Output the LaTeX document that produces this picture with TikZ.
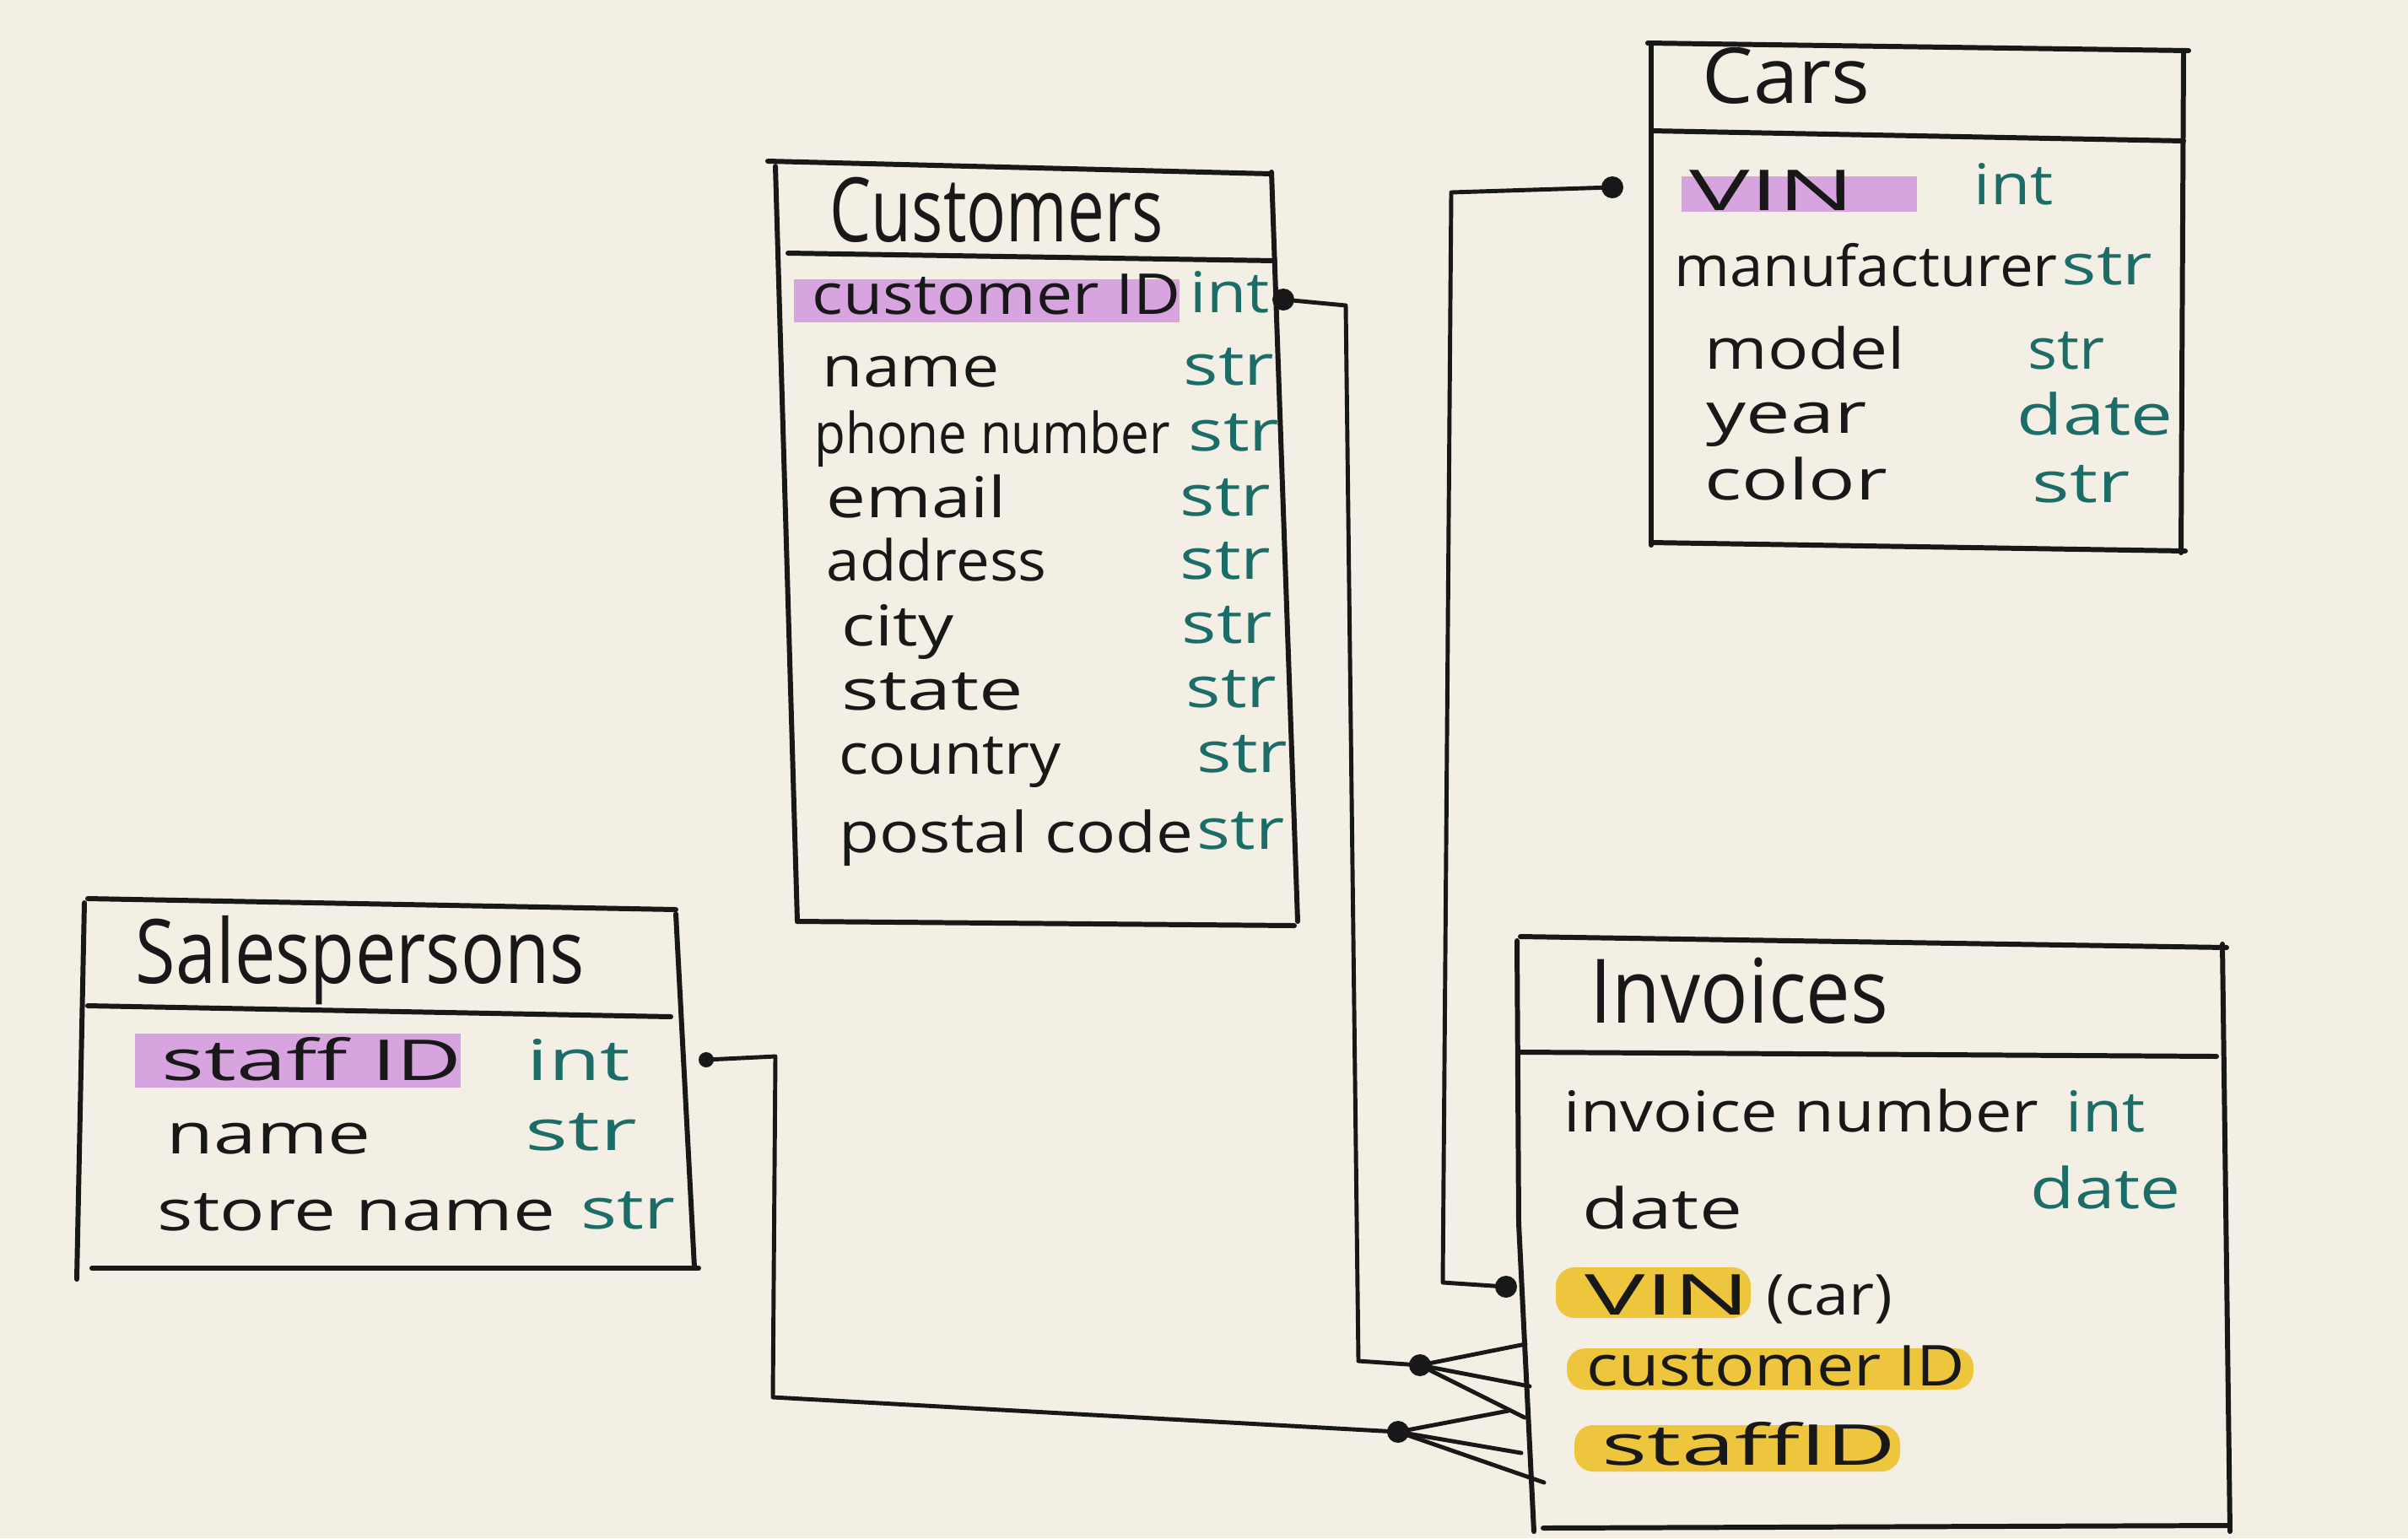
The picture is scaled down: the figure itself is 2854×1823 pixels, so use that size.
\documentclass[tikz,border=0pt]{standalone}
\usepackage{graphicx}
\usepackage{fontspec}
\setmainfont{Open Sans}
\definecolor{paperc}{RGB}{243,239,229}
\definecolor{inkc}{RGB}{24,24,24}
\definecolor{tealc}{RGB}{28,108,104}
\definecolor{pinkc}{RGB}{216,164,224}
\definecolor{yelc}{RGB}{238,198,62}
\newcommand{\hwtxt}[2]{\scalebox{#1}[1]{#2}}
\begin{document}
\begin{tikzpicture}[x=0.01cm,y=-0.01cm,
  edge/.style={draw=inkc, line width=1.7pt, line cap=round, line join=round},
  ttl/.style={anchor=base west, font=\fontsize{30}{34}\selectfont, text=inkc, inner sep=0pt},
  fld/.style={anchor=base west, font=\fontsize{19}{22}\selectfont, text=inkc, inner sep=0pt},
  typ/.style={anchor=base west, font=\fontsize{19}{22}\selectfont, text=tealc, inner sep=0pt},
  dotn/.style={circle, fill=inkc, inner sep=0pt, minimum size=0.26cm},
  smalldot/.style={circle, fill=inkc, inner sep=0pt, minimum size=0.18cm},
  conn/.style={draw=inkc, line width=1.4pt, line join=round, line cap=round},
  pinkhl/.style={fill=pinkc},
  yelhl/.style={fill=yelc, rounded corners=0.22cm}]
\useasboundingbox (0,0) rectangle (2854,1823);
\fill[paperc] (0,0) rectangle (2854,1823);

% ---------- highlights ----------
\fill[pinkhl] (941,331) rectangle (1398,382);
\fill[pinkhl] (1993,209) rectangle (2272,251);
\fill[pinkhl] (160,1225) rectangle (546,1289);
\fill[yelhl] (1844,1502) rectangle (2075,1562);
\fill[yelhl] (1857,1598) rectangle (2339,1647);
\fill[yelhl] (1866,1689) rectangle (2252,1744);

% ---------- Customers box ----------
\draw[edge] (910,191) -- (1507,206);
\draw[edge] (919,197) -- (945,1092);
\draw[edge] (1507,204) -- (1538,1092);
\draw[edge] (945,1092) -- (1534,1097);
\draw[edge] (934,300) -- (1511,309);
\node[ttl] (custT) at (983,286) {\hwtxt{0.74}{Customers}};
\node[fld] (c1) at (962,372) {\hwtxt{1.15}{customer ID}};
\node[fld] (c2) at (974,458) {\hwtxt{1.18}{name}};
\node[fld] (c3) at (965,537) {\hwtxt{0.90}{phone number}};
\node[fld] (c4) at (979,613) {\hwtxt{1.25}{email}};
\node[fld] (c5) at (979,688) {\hwtxt{1.06}{address}};
\node[fld] (c6) at (997,765) {\hwtxt{1.25}{city}};
\node[fld] (c7) at (997,841) {\hwtxt{1.40}{state}};
\node[fld] (c8) at (994,917) {\hwtxt{1.10}{country}};
\node[fld] (c9) at (994,1010) {\hwtxt{1.17}{postal code}};
\node[typ] (ct1) at (1410,370) {\hwtxt{1.15}{int}};
\node[typ] (ct2) at (1402,456) {\hwtxt{1.3}{str}};
\node[typ] (ct3) at (1408,534) {\hwtxt{1.3}{str}};
\node[typ] (ct4) at (1398,611) {\hwtxt{1.3}{str}};
\node[typ] (ct5) at (1398,686) {\hwtxt{1.3}{str}};
\node[typ] (ct6) at (1400,762) {\hwtxt{1.3}{str}};
\node[typ] (ct7) at (1405,838) {\hwtxt{1.3}{str}};
\node[typ] (ct8) at (1418,915) {\hwtxt{1.3}{str}};
\node[typ] (ct9) at (1418,1006) {\hwtxt{1.25}{str}};

% ---------- Cars box ----------
\draw[edge] (1953,51) -- (2594,60);
\draw[edge] (1957,51) -- (1957,646);
\draw[edge] (2588,60) -- (2585,655);
\draw[edge] (1957,643) -- (2590,653);
\draw[edge] (1957,155) -- (2588,167);
\node[ttl, font=\fontsize{26}{30}\selectfont] (carsT) at (2017,122) {\hwtxt{1.05}{Cars}};
\node[fld] (r1) at (2002,249) {\hwtxt{1.8}{VIN}};
\node[fld] (r2) at (1984,339) {\hwtxt{1.06}{manufacturer}};
\node[fld] (r3) at (2020,437) {\hwtxt{1.2}{model}};
\node[fld] (r4) at (2022,513) {\hwtxt{1.4}{year}};
\node[fld] (r5) at (2020,592) {\hwtxt{1.38}{color}};
\node[typ] (rt1) at (2339,242) {\hwtxt{1.15}{int}};
\node[typ] (rt2) at (2443,337) {\hwtxt{1.3}{str}};
\node[typ] (rt3) at (2403,437) {\hwtxt{1.1}{str}};
\node[typ] (rt4) at (2390,515) {\hwtxt{1.33}{date}};
\node[typ] (rt5) at (2408,595) {\hwtxt{1.4}{str}};

% ---------- Salespersons box ----------
\draw[edge] (104,1065) -- (801,1078);
\draw[edge] (100,1070) -- (91,1516);
\draw[edge] (801,1083) -- (823,1502);
\draw[edge] (109,1503) -- (828,1503);
\draw[edge] (104,1192) -- (795,1205);
\node[ttl] (salesT) at (160,1165) {\hwtxt{0.82}{Salespersons}};
\node[fld] (s1) at (191,1280) {\hwtxt{1.6}{staff ID}};
\node[fld] (s2) at (197,1367) {\hwtxt{1.36}{name}};
\node[fld] (s3) at (186,1458) {\hwtxt{1.33}{store name}};
\node[typ] (st1) at (624,1280) {\hwtxt{1.5}{int}};
\node[typ] (st2) at (622,1363) {\hwtxt{1.6}{str}};
\node[typ] (st3) at (688,1456) {\hwtxt{1.35}{str}};

% ---------- Invoices box ----------
\draw[edge] (1802,1110) -- (2639,1123);
\draw[edge] (1798,1115) -- (1800,1450) -- (1818,1815);
\draw[edge] (2634,1119) -- (2643,1815);
\draw[edge] (1829,1811) -- (2639,1808);
\draw[edge] (1802,1247) -- (2627,1252);
\node[ttl] (invT) at (1884,1212) {\hwtxt{0.89}{Invoices}};
\node[fld] (i1) at (1853,1341) {\hwtxt{1.16}{invoice number}};
\node[fld] (i2) at (1875,1456) {\hwtxt{1.36}{date}};
\node[fld] (i3) at (1878,1558) {\hwtxt{1.8}{VIN}\hwtxt{1.1}{ (car)}};
\node[fld] (i4) at (1880,1642) {\hwtxt{1.18}{customer ID}};
\node[fld] (i5) at (1898,1736) {\hwtxt{1.7}{staffID}};
\node[typ] (it1) at (2448,1341) {\hwtxt{1.15}{int}};
\node[typ] (it2) at (2406,1432) {\hwtxt{1.28}{date}};

% ---------- connector dots ----------
\node[dotn] (dcust) at (1521,355) {};
\node[dotn] (dcars) at (1911,222) {};
\node[smalldot] (dsales) at (837,1256) {};
\node[dotn] (dinvvin) at (1785,1525) {};
\node[dotn] (fcust) at (1683,1618) {};
\node[dotn] (fsales) at (1657,1697) {};

% ---------- bends and crow's-foot ends ----------
\coordinate (b1a) at (1595,362);
\coordinate (b1b) at (1610,1613);
\coordinate (b2a) at (1720,228);
\coordinate (b2b) at (1710,1520);
\coordinate (b3a) at (919,1252);
\coordinate (b3b) at (916,1656);
\coordinate (cf1) at (1808,1593);
\coordinate (cf2) at (1813,1643);
\coordinate (cf3) at (1807,1680);
\coordinate (sf1) at (1788,1672);
\coordinate (sf2) at (1803,1722);
\coordinate (sf3) at (1830,1757);

% ---------- connectors ----------
\draw[conn] (dcust.center) -- (b1a) -- (b1b) -- (fcust.center);
\draw[conn] (fcust.center) -- (cf1);
\draw[conn] (fcust.center) -- (cf2);
\draw[conn] (fcust.center) -- (cf3);
\draw[conn] (dcars.center) -- (b2a) -- (b2b) -- (dinvvin.center);
\draw[conn] (dsales.center) -- (b3a) -- (b3b) -- (fsales.center);
\draw[conn] (fsales.center) -- (sf1);
\draw[conn] (fsales.center) -- (sf2);
\draw[conn] (fsales.center) -- (sf3);
\end{tikzpicture}
\end{document}
